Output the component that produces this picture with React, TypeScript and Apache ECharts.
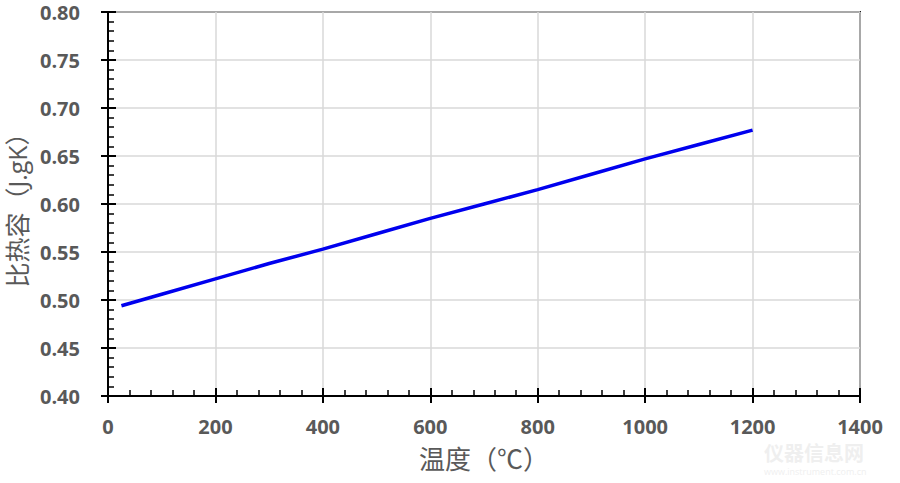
import React, { useEffect, useRef } from "react";
import * as echarts from "echarts";

const temperatures = [25, 100, 200, 300, 400, 500, 600, 700, 800, 900, 1000, 1100, 1200];
const specificHeat = [0.494, 0.506, 0.522, 0.538, 0.553, 0.569, 0.585, 0.600, 0.615, 0.631, 0.647, 0.662, 0.677];
const xTitle = "温度（℃）";
const yTitle = "比热容（J.gK）";

const FONT = "'Open Sans', 'Noto Sans CJK SC', sans-serif";
const LABEL = "#595959";

export default function App() {
  const ref = useRef<HTMLDivElement>(null);
  useEffect(() => {
    if (!ref.current) return;
    const chart = echarts.init(ref.current, undefined, { renderer: "svg" });
    const data = temperatures.map((t, i) => [t, specificHeat[i]]);
    const xBase = { type: "value", min: 0, max: 1400, interval: 200 };
    const yBase = { type: "value", min: 0.4, max: 0.8, interval: 0.05 };
    chart.setOption({
      animation: false,
      backgroundColor: "#ffffff",
      grid: {
        left: 108, right: 40, top: 12, bottom: 87,
        outerBoundsMode: "none",
        containLabel: false,
        show: true, borderColor: "#1a1a1a", borderWidth: 2, backgroundColor: "transparent",
      },
      xAxis: [
        {
          ...xBase,
          position: "bottom",
          name: xTitle,
          nameLocation: "middle",
          nameGap: 50,
          nameTextStyle: { fontFamily: FONT, fontSize: 26, color: LABEL },
          axisLine: { show: true, lineStyle: { color: "#000", width: 2 } },
          axisTick: { show: true, inside: true, length: 8, lineStyle: { color: "#000", width: 2 } },
          minorTick: { show: true, splitNumber: 5, length: 6, lineStyle: { color: "#000", width: 1.5 } },
          axisLabel: {
            margin: 20, fontFamily: FONT, fontSize: 20, fontWeight: "bold", color: LABEL,
            formatter: (v: number) => String(v),
          },
          splitLine: { show: true, lineStyle: { color: "#d9d9d9", width: 1.5 } },
        },
        {
          ...xBase,
          position: "bottom",
          offset: 0,
          axisLine: { show: false },
          axisTick: { show: true, inside: false, length: 7, lineStyle: { color: "#000", width: 2 } },
          axisLabel: { show: false },
          splitLine: { show: false },
        },
      ],
      yAxis: [
        {
          ...yBase,
          position: "left",
          name: yTitle,
          nameLocation: "middle",
          nameGap: 71,
          nameRotate: 90,
          nameTextStyle: { fontFamily: FONT, fontSize: 25, color: LABEL },
          axisLine: { show: true, lineStyle: { color: "#000", width: 2 } },
          axisTick: { show: true, inside: true, length: 8, lineStyle: { color: "#000", width: 2 } },
          minorTick: { show: true, splitNumber: 5, length: 6, lineStyle: { color: "#000", width: 1.5 } },
          axisLabel: {
            margin: 28, fontFamily: FONT, fontSize: 20, fontWeight: "bold", color: LABEL,
            formatter: (v: number) => v.toFixed(2),
          },
          splitLine: { show: true, lineStyle: { color: "#d9d9d9", width: 1.5 } },
        },
        {
          ...yBase,
          position: "left",
          offset: 0,
          axisLine: { show: false },
          axisTick: { show: true, inside: false, length: 7, lineStyle: { color: "#000", width: 2 } },
          axisLabel: { show: false },
          splitLine: { show: false },
        },
      ],
      series: [
        {
          type: "line",
          data,
          xAxisIndex: 0,
          yAxisIndex: 0,
          showSymbol: false,
          symbol: "none",
          lineStyle: { color: "#0000ee", width: 3.5 },
        },
      ],
      graphic: [
        {
          type: "text", left: 764, top: 443,
          style: { text: "仪器信息网", fontFamily: FONT, fontSize: 20, fontWeight: "bold", fill: "#efefef" },
        },
        {
          type: "text", left: 764, top: 467,
          style: { text: "www.instrument.com.cn", fontFamily: FONT, fontSize: 9, fill: "#efefef" },
        },
      ],
    });
    return () => chart.dispose();
  }, []);
  return <div ref={ref} style={{ position: "fixed", left: 0, top: 0, width: 900, height: 483 }} />;
}
